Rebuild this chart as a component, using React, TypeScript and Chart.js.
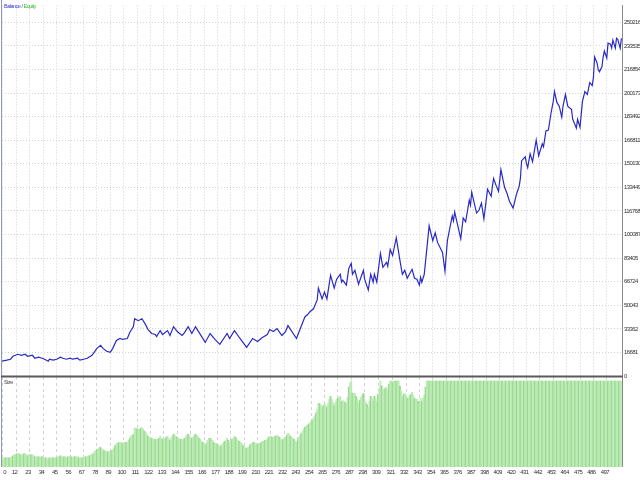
import React, { useEffect, useRef } from "react";
import { Chart, registerables } from "chart.js";

Chart.register(...registerables);

// ---- data ----
const BALANCE_TRADES = [
  0, 4, 7, 9, 13, 16, 19, 21, 25, 27, 30, 33, 35, 38, 39, 42, 45, 48, 50, 53,
  56, 58, 62, 64, 67, 70, 74, 78, 81, 83, 86, 89, 91, 94, 97, 99, 103, 105, 108, 109,
  112, 115, 118, 120, 123, 126, 127, 130, 132, 136, 138, 141, 144, 148, 150, 153, 156, 159, 161, 167,
  171, 175, 179, 185, 187, 191, 195, 198, 201, 206, 210, 214, 218, 220, 223, 226, 230, 233, 235, 242,
  247, 249, 251, 253, 256, 259, 260, 263, 265, 267, 270, 273, 275, 278, 279, 280, 283, 285, 287, 288,
  290, 293, 297, 298, 301, 303, 305, 306, 308, 311, 313, 316, 317, 319, 321, 324, 327, 329, 331, 333,
  337, 339, 341, 343, 344, 345, 347, 351, 354, 356, 358, 362, 364, 366, 370, 371, 372, 377, 379, 381,
  384, 385, 386, 390, 392, 394, 396, 399, 402, 403, 404, 406, 408, 410, 413, 415, 416, 417, 420, 422,
  423, 425, 426, 427, 430, 431, 432, 434, 436, 439, 441, 444, 445, 447, 449, 451, 453, 454, 456, 458,
  460, 461, 463, 465, 468, 469, 472, 473, 475, 477, 479, 481, 483, 485, 486, 487, 489, 490, 491, 493,
  494, 495, 497, 498, 500, 501, 502, 504, 505, 506, 508, 509,
];

const BALANCE_VALUES = [
  10484, 11182, 11881, 13978, 15376, 14677, 15376, 13978, 14677, 12580, 13279, 12580, 11881, 10484, 11881, 11182, 11881, 13279, 12580, 11881,
  12580, 11881, 12580, 11182, 11881, 12580, 14677, 19569, 21666, 19569, 17473, 16774, 19569, 25160, 26558, 25859, 26558, 30752, 34945, 40536,
  39138, 40536, 36343, 32848, 30053, 29354, 27956, 32149, 29354, 32149, 28655, 34945, 31451, 28655, 30752, 34945, 30053, 34945, 32149, 23763,
  30053, 25859, 22365, 30053, 26558, 32149, 27257, 23763, 20268, 26558, 24462, 27257, 29354, 32848, 31451, 33547, 28655, 31451, 35644, 26558,
  37741, 41934, 43332, 45429, 47525, 53815, 62202, 54514, 59407, 54514, 71288, 62202, 68492, 71987, 66396, 67793, 64299, 76180, 79675, 71987,
  74782, 64998, 74782, 68492, 60804, 71987, 66396, 71987, 66396, 86664, 76879, 80374, 77578, 89459, 85266, 97846, 81771, 71987, 74782, 69191,
  75481, 69191, 68492, 64299, 69890, 66396, 71987, 106233, 95751, 101341, 94352, 87363, 74083, 95751, 113222, 109727, 116017, 97147, 111824, 109028,
  124404, 120910, 129995, 115319, 117415, 122308, 111125, 132092, 127200, 134189, 139780, 134888, 130694, 146070, 133490, 129296, 126501, 123705, 118813, 125802,
  129296, 134189, 139780, 152360, 155156, 150264, 147468, 157253, 151662, 167037, 155855, 164242, 162145, 173327, 174026, 185209, 194294, 201283, 193595, 190800,
  183112, 190800, 199187, 190800, 188703, 181714, 175424, 181714, 176123, 194294, 201283, 199187, 207573, 205477, 211068, 225745, 221552, 216659, 215261, 218756,
  225745, 229938, 225046, 235529, 234830, 232034, 237626, 232034, 239024, 238300, 232034, 239024,
];

// lot size per trade (trade number = position in the list)
const SIZE_VALUES = [
  0.8, 0.8, 0.9, 0.9, 0.9, 0.9, 0.9, 0.9, 1.0, 1.1,
  1.2, 1.2, 1.3, 1.3, 1.3, 1.2, 1.2, 1.2, 1.3, 1.3,
  1.2, 1.1, 1.2, 1.2, 1.2, 1.2, 1.1, 1.0, 1.0, 1.0,
  1.0, 1.0, 1.0, 1.0, 1.0, 0.9, 0.9, 0.8, 0.8, 0.9,
  0.9, 0.9, 0.9, 0.9, 0.9, 0.9, 1.0, 1.0, 1.1, 1.0,
  1.0, 1.0, 1.0, 0.9, 1.0, 1.0, 1.0, 1.0, 0.9, 1.0,
  1.0, 1.0, 1.0, 0.9, 0.9, 0.9, 0.9, 0.9, 1.0, 1.0,
  1.0, 1.1, 1.1, 1.2, 1.2, 1.3, 1.5, 1.6, 1.7, 1.8,
  1.9, 1.9, 1.8, 1.7, 1.6, 1.6, 1.5, 1.5, 1.5, 1.4,
  1.6, 1.7, 1.9, 2.1, 2.3, 2.3, 2.4, 2.4, 2.4, 2.3,
  2.4, 2.4, 2.4, 2.4, 2.6, 2.8, 3.0, 3.1, 3.2, 3.8,
  3.8, 3.7, 3.7, 3.7, 3.8, 3.8, 3.7, 3.5, 3.4, 3.2,
  3.0, 2.9, 2.9, 2.8, 2.7, 2.7, 2.7, 2.5, 2.7, 2.8,
  3.0, 2.8, 2.7, 2.8, 2.8, 2.9, 3.0, 2.8, 2.6, 2.8,
  3.0, 3.2, 3.1, 3.0, 2.9, 2.8, 2.7, 2.7, 2.6, 2.7,
  2.8, 3.0, 3.1, 3.2, 3.1, 2.9, 2.8, 2.9, 3.1, 3.2,
  3.1, 3.0, 2.8, 2.7, 2.5, 2.4, 2.3, 2.1, 2.3, 2.6,
  2.8, 2.8, 2.7, 2.6, 2.4, 2.3, 2.3, 2.2, 2.1, 2.0,
  2.1, 2.2, 2.4, 2.5, 2.6, 2.8, 2.6, 2.4, 2.6, 2.7,
  2.8, 3.0, 2.9, 2.7, 2.6, 2.5, 2.4, 2.3, 2.1, 2.0,
  1.9, 1.8, 1.9, 2.0, 2.2, 2.3, 2.4, 2.4, 2.3, 2.3,
  2.2, 2.3, 2.3, 2.4, 2.5, 2.5, 2.6, 2.6, 2.7, 2.9,
  3.0, 3.0, 2.9, 2.9, 3.0, 3.0, 3.1, 3.0, 2.9, 2.7,
  2.6, 2.7, 2.8, 2.9, 3.1, 3.3, 3.2, 3.0, 2.9, 2.8,
  2.7, 2.5, 2.4, 2.6, 2.9, 3.1, 3.3, 3.5, 3.7, 3.9,
  4.0, 4.1, 4.2, 4.3, 4.4, 4.6, 4.8, 5.0, 5.3, 5.6,
  6.2, 6.2, 6.0, 5.8, 6.0, 6.2, 6.0, 5.8, 6.2, 6.6,
  6.9, 6.6, 6.3, 6.0, 6.3, 6.6, 6.7, 6.8, 6.9, 6.4,
  6.5, 6.4, 6.3, 6.2, 6.8, 7.8, 8.2, 8.4, 7.2, 7.1,
  7.2, 6.9, 6.6, 6.2, 6.5, 6.8, 7.0, 7.2, 6.6, 6.3,
  6.1, 5.8, 6.4, 6.9, 6.7, 6.4, 6.9, 6.7, 6.4, 7.1,
  7.7, 8.4, 7.9, 7.4, 7.6, 7.7, 7.8, 7.5, 8.1, 8.4,
  8.4, 8.3, 8.4, 8.4, 8.4, 8.4, 8.4, 7.9, 7.4, 6.9,
  7.1, 7.2, 7.0, 6.7, 6.8, 7.0, 7.1, 7.3, 7.0, 6.7,
  6.6, 6.6, 6.4, 6.2, 6.7, 6.4, 6.7, 7.0, 7.8, 8.4,
  8.4, 8.4, 8.4, 8.4, 8.4, 8.4, 8.4, 8.4, 8.4, 8.4,
  8.4, 8.4, 8.4, 8.4, 8.4, 8.4, 8.4, 8.4, 8.4, 8.4,
  8.4, 8.4, 8.4, 8.4, 8.4, 8.4, 8.4, 8.4, 8.4, 8.4,
  8.4, 8.4, 8.4, 8.4, 8.4, 8.4, 8.4, 8.4, 8.4, 8.4,
  8.4, 8.4, 8.4, 8.4, 8.4, 8.4, 8.4, 8.4, 8.4, 8.4,
  8.4, 8.4, 8.4, 8.4, 8.4, 8.4, 8.4, 8.4, 8.4, 8.4,
  8.4, 8.4, 8.4, 8.4, 8.4, 8.4, 8.4, 8.4, 8.4, 8.4,
  8.4, 8.4, 8.4, 8.4, 8.4, 8.4, 8.4, 8.4, 8.4, 8.4,
  8.4, 8.4, 8.4, 8.4, 8.4, 8.4, 8.4, 8.4, 8.4, 8.4,
  8.4, 8.4, 8.4, 8.4, 8.4, 8.4, 8.4, 8.4, 8.4, 8.4,
  8.4, 8.4, 8.4, 8.4, 8.4, 8.4, 8.4, 8.4, 8.4, 8.4,
  8.4, 8.4, 8.4, 8.4, 8.4, 8.4, 8.4, 8.4, 8.4, 8.4,
  8.4, 8.4, 8.4, 8.4, 8.4, 8.4, 8.4, 8.4, 8.4, 8.4,
  8.4, 8.4, 8.4, 8.4, 8.4, 8.4, 8.4, 8.4, 8.4, 8.4,
  8.4, 8.4, 8.4, 8.4, 8.4, 8.4, 8.4, 8.4, 8.4, 8.4,
  8.4, 8.4, 8.4, 8.4, 8.4, 8.4, 8.4, 8.4, 8.4, 8.4,
];

const X_TICKS = [
  0, 12, 23, 34, 45, 56, 67, 78, 89, 100, 111, 122, 133, 144, 155, 166, 177, 188, 199, 210,
  221, 232, 243, 254, 265, 276, 287, 298, 309, 321, 332, 343, 354, 365, 376, 387, 398, 409, 420, 431,
  442, 453, 464, 475, 486, 497,
];

const Y_TICKS = [
  0, 16681, 33362, 50043, 66724, 83405, 100087, 116768, 133449, 150130, 166811, 183492, 200173, 216854, 233535, 250216,
];

const LEGEND_PARTS = ["Balance", " / ", "Equity"];
const SIZE_LABEL = "Size";

const X_MIN = 0;
const X_MAX = 509.5;
const Y_MAX = 262097;
const SIZE_MAX = 8.79;

const FONT = "'Liberation Sans', Arial, sans-serif";
const GRID = "#d2d2d2";

const tightText = {
  id: "tightText",
  beforeDraw(chart: any) {
    chart.ctx.letterSpacing = "-0.6px";
  },
};

export default function App() {
  const topRef = useRef<HTMLCanvasElement>(null);
  const botRef = useRef<HTMLCanvasElement>(null);

  useEffect(() => {
    const balancePoints = BALANCE_TRADES.map((t, i) => ({ x: t, y: BALANCE_VALUES[i] }));
    const sizePoints = SIZE_VALUES.map((v, i) => ({ x: i, y: v }));

    const topDeco = {
      id: "topDeco",
      afterDraw(chart: any) {
        const ctx = chart.ctx;
        const a = chart.chartArea;
        ctx.save();
        ctx.strokeStyle = "#8f9ab0";
        ctx.lineWidth = 1;
        ctx.beginPath();
        ctx.moveTo(1.5, 0);
        ctx.lineTo(1.5, a.bottom);
        ctx.stroke();
        ctx.strokeStyle = "#5a5a5a";
        ctx.lineWidth = 2;
        ctx.beginPath();
        ctx.moveTo(1, a.bottom + 0.5);
        ctx.lineTo(a.right + 1, a.bottom + 0.5);
        ctx.stroke();
        ctx.letterSpacing = "-0.5px";
        ctx.font = "5.5px " + FONT;
        ctx.textBaseline = "middle";
        ctx.textAlign = "left";
        const colors = ["#3a3ad0", "#555555", "#33b833"];
        let x = 4;
        LEGEND_PARTS.forEach((p, i) => {
          ctx.fillStyle = colors[i];
          ctx.fillText(p, x, 6);
          x += ctx.measureText(p).width;
        });
        ctx.restore();
      },
    };

    const botDeco = {
      id: "botDeco",
      afterDraw(chart: any) {
        const ctx = chart.ctx;
        const a = chart.chartArea;
        ctx.save();
        ctx.strokeStyle = "#8f9ab0";
        ctx.lineWidth = 1;
        ctx.beginPath();
        ctx.moveTo(1.5, 0);
        ctx.lineTo(1.5, a.bottom);
        ctx.stroke();
        ctx.strokeStyle = "#8a8a8a";
        ctx.beginPath();
        ctx.moveTo(a.right + 0.5, 0);
        ctx.lineTo(a.right + 0.5, a.bottom);
        ctx.stroke();
        ctx.letterSpacing = "-0.5px";
        ctx.font = "5.5px " + FONT;
        ctx.fillStyle = "#444";
        ctx.textBaseline = "middle";
        ctx.textAlign = "left";
        ctx.fillText(SIZE_LABEL, 4, 6);
        ctx.restore();
      },
    };

    const top = new Chart(topRef.current as HTMLCanvasElement, {
      type: "line",
      data: {
        datasets: [
          {
            data: balancePoints,
            borderColor: "#2a2ac6",
            borderWidth: 1.2,
            pointRadius: 0,
            tension: 0,
            fill: false,
          },
        ],
      },
      options: {
        responsive: false,
        animation: false,
        events: [],
        layout: { padding: { left: 2, top: 0, right: 0, bottom: 12 } },
        plugins: { legend: { display: false }, tooltip: { enabled: false } },
        scales: {
          x: {
            type: "linear",
            min: X_MIN,
            max: X_MAX,
            afterBuildTicks: (s: any) => {
              s.ticks = X_TICKS.map((v) => ({ value: v }));
            },
            ticks: { display: false, autoSkip: false },
            grid: { color: GRID, drawTicks: false, lineWidth: 1 },
            border: { display: false, dash: [1, 2] },
            afterFit: (s: any) => {
              s.height = 0;
            },
          },
          y: {
            type: "linear",
            position: "right",
            min: 0,
            max: Y_MAX,
            afterBuildTicks: (s: any) => {
              s.ticks = Y_TICKS.map((v) => ({ value: v }));
            },
            ticks: {
              autoSkip: false,
              font: { family: FONT, size: 6 },
              color: "#333",
              padding: 2,
              callback: (v: any) => String(v),
            },
            grid: { color: GRID, drawTicks: false, lineWidth: 1 },
            border: { display: true, color: "#8a8a8a", dash: [1, 2] },
            afterFit: (s: any) => {
              s.width = 18;
            },
          },
        },
      },
      plugins: [tightText, topDeco],
    } as any);

    const bot = new Chart(botRef.current as HTMLCanvasElement, {
      type: "bar",
      data: {
        datasets: [
          {
            data: sizePoints,
            backgroundColor: (c: any) => (c.dataIndex % 3 === 0 ? "#98da8f" : "#bdebb6"),
            borderWidth: 0,
            barPercentage: 1,
            categoryPercentage: 1,
          },
        ],
      },
      options: {
        responsive: false,
        animation: false,
        events: [],
        layout: { padding: { left: 2, top: 1, right: 18, bottom: 0 } },
        plugins: { legend: { display: false }, tooltip: { enabled: false } },
        scales: {
          x: {
            type: "linear",
            min: X_MIN,
            max: X_MAX,
            offset: false,
            afterBuildTicks: (s: any) => {
              // trailing unlabelled tick at the frame edge keeps "497" centred like the others
              s.ticks = [...X_TICKS.map((v) => ({ value: v })), { value: X_MAX }];
            },
            ticks: {
              autoSkip: false,
              maxRotation: 0,
              minRotation: 0,
              align: "inner",
              labelOffset: -2,
              font: { family: FONT, size: 6 },
              color: "#333",
              padding: 2,
              callback: (v: any) => {
                if (!X_TICKS.includes(v)) return "";
                return v === 0 ? "   0" : String(v);
              },
            },
            grid: { color: GRID, drawTicks: false, offset: false, lineWidth: 1 },
            border: { display: false, dash: [3, 3] },
            afterFit: (s: any) => {
              s.height = 13;
            },
          },
          y: { display: false, min: 0, max: SIZE_MAX },
        },
      },
      plugins: [tightText, botDeco],
    } as any);

    return () => {
      top.destroy();
      bot.destroy();
    };
  }, []);

  return (
    <div
      style={{
        position: "fixed",
        left: 0,
        top: 0,
        width: 640,
        height: 480,
        background: "#ffffff",
        overflow: "hidden",
      }}
    >
      <canvas
        ref={botRef}
        width={640}
        height={104}
        style={{ position: "absolute", left: 0, top: 376, width: 640, height: 104 }}
      />
      <canvas
        ref={topRef}
        width={640}
        height={388}
        style={{ position: "absolute", left: 0, top: 0, width: 640, height: 388, zIndex: 1 }}
      />
    </div>
  );
}
